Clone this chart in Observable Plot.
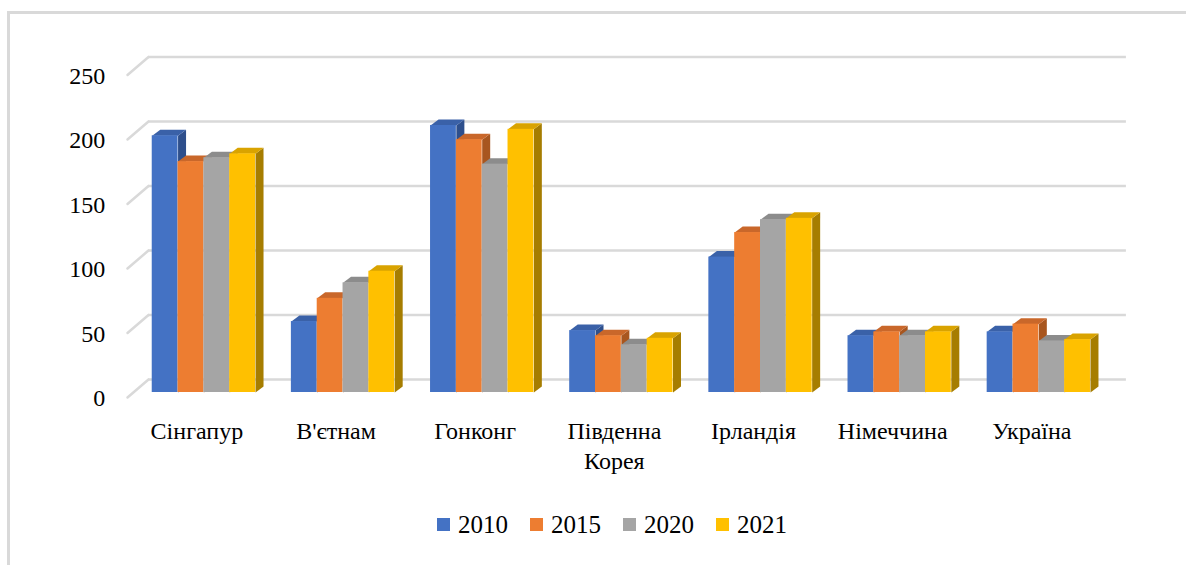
<!DOCTYPE html>
<html>
<head>
<meta charset="utf-8">
<script src="https://cdn.jsdelivr.net/npm/d3@7"></script>
<script src="https://cdn.jsdelivr.net/npm/@observablehq/plot@0.6"></script>
<style>
  html, body { margin: 0; padding: 0; background: #fff; }
  body { width: 1186px; height: 565px; position: relative; overflow: hidden; font-family: "Liberation Serif", "Times New Roman", Tinos, "DejaVu Serif", serif; }
  #frame { position: absolute; left: 7px; top: 11px; width: 1200px; height: 600px; border-left: 3px solid #d9d9d9; border-top: 3px solid #d9d9d9; box-sizing: border-box; }
  #chart { position: absolute; left: 0; top: 0; }
  #legend { position: absolute; left: 437px; top: 508px; }
  #chart svg, #chart svg text, #legend, #legend * { font-family: "Liberation Serif", "Times New Roman", Tinos, "DejaVu Serif", serif !important; }
  .lg-swatches { font-size: 25px !important; color: #000; margin: 0 !important; }
  .lg-swatch { margin-right: 22px !important; }
  .lg-swatch > svg { margin-right: 8px !important; }
</style>
</head>
<body>
<div id="frame"></div>
<div id="chart"></div>
<div id="legend"></div>
<script>
// ---- data ----
const categories = ["Сінгапур", "В'єтнам", "Гонконг", "Південна\nКорея", "Ірландія", "Німеччина", "Україна"];
const years = ["2010", "2015", "2020", "2021"];
const v2010 = [199, 55, 207, 48, 105, 44, 47];
const v2015 = [179, 73, 196, 44, 124, 47, 53];
const v2020 = [182, 85, 177, 37, 134, 44, 40];
const v2021 = [185, 94, 204, 42, 135, 47, 41];
const yTicks = [0, 50, 100, 150, 200, 250];

const series = [v2010, v2015, v2020, v2021];
const frontColors = ["#4472C4", "#ED7D31", "#A5A5A5", "#FFC000"];
const topColors   = ["#3A61A8", "#C9672A", "#8C8C8C", "#D9A300"];
const sideColors  = ["#2E4F8C", "#A8561F", "#737373", "#A67D00"];

// ---- layout ----
const W = 1186, H = 500;
const mL = 133.8, mR = 78.1, mT = 69.5, mB = 108;
const pxX = (W - mL - mR) / 7;      // px per x unit (one category)
const pxY = (H - mT - mB) / 250;    // px per y unit
const ux = p => p / pxX, uy = p => p / pxY;
const groupW = ux(103.3), barW = groupW / 4;
const dD = ux(8), eD = uy(6);       // bar depth (px) -> data
const backDx = ux(14.2), backDy = uy(13);
const frontDx = ux(-6.8), frontDy = uy(-5);

// bars
const bars = [];
categories.forEach((c, i) => {
  series.forEach((vals, j) => {
    const x1 = i - groupW / 2 + j * barW;
    bars.push({i, j, x1, x2: x1 + barW, v: vals[i]});
  });
});
const sides = [], tops = [];
bars.forEach((b, k) => {
  const id = "b" + k;
  sides.push({id, x: b.x2, y: 0, c: sideColors[b.j]},
             {id, x: b.x2, y: b.v, c: sideColors[b.j]},
             {id, x: b.x2 + dD, y: b.v + eD, c: sideColors[b.j]},
             {id, x: b.x2 + dD, y: eD, c: sideColors[b.j]});
  tops.push({id, x: b.x1, y: b.v, c: topColors[b.j]},
            {id, x: b.x2, y: b.v, c: topColors[b.j]},
            {id, x: b.x2 + dD, y: b.v + eD, c: topColors[b.j]},
            {id, x: b.x1 + dD, y: b.v + eD, c: topColors[b.j]});
});
const diag = [];
yTicks.forEach(t => {
  diag.push({t, x: -0.5 + frontDx, y: t + frontDy}, {t, x: -0.5 + backDx, y: t + backDy});
});

const FF = "Liberation Serif, Times New Roman, Tinos, DejaVu Serif, serif";
const grid = "#d9d9d9";
const plot = Plot.plot({
  width: W, height: H,
  marginLeft: mL, marginRight: mR, marginTop: mT, marginBottom: mB,
  x: {type: "linear", domain: [-0.5, 6.5], axis: null},
  y: {type: "linear", domain: [0, 250], axis: null},
  color: {type: "identity"},
  style: {fontFamily: FF, fontSize: "24px", background: "transparent", overflow: "visible"},
  marks: [
    Plot.ruleY(yTicks, {y: d => d + backDy, x1: -0.5 + backDx, x2: 6.5 + ux(18), stroke: grid, strokeWidth: 2.5}),
    Plot.line(diag, {x: "x", y: "y", z: "t", stroke: grid, strokeWidth: 2.5}),
    Plot.line(sides, {x: "x", y: "y", z: "id", fill: "c", stroke: null}),
    Plot.line(tops, {x: "x", y: "y", z: "id", fill: "c", stroke: null}),
    Plot.rect(bars, {x1: "x1", x2: "x2", y1: 0, y2: "v", fill: d => frontColors[d.j], stroke: null}),
    Plot.text(yTicks, {x: -0.5, y: d => d, dx: -29, dy: 6, text: d => String(d), textAnchor: "end", fill: "#000", fontSize: 24, fontFamily: FF}),
    Plot.text(categories, {x: (d, i) => i, y: 0, dx: -7, dy: 25, text: d => d, lineAnchor: "top", lineHeight: 1.25, fill: "#000", fontSize: 24, fontFamily: FF})
  ]
});
document.getElementById("chart").appendChild(plot);

const lg = Plot.legend({
  color: {type: "ordinal", domain: years, range: frontColors},
  legend: "swatches",
  swatchSize: 13,
  className: "lg"
});
document.getElementById("legend").appendChild(lg);
</script>
</body>
</html>
